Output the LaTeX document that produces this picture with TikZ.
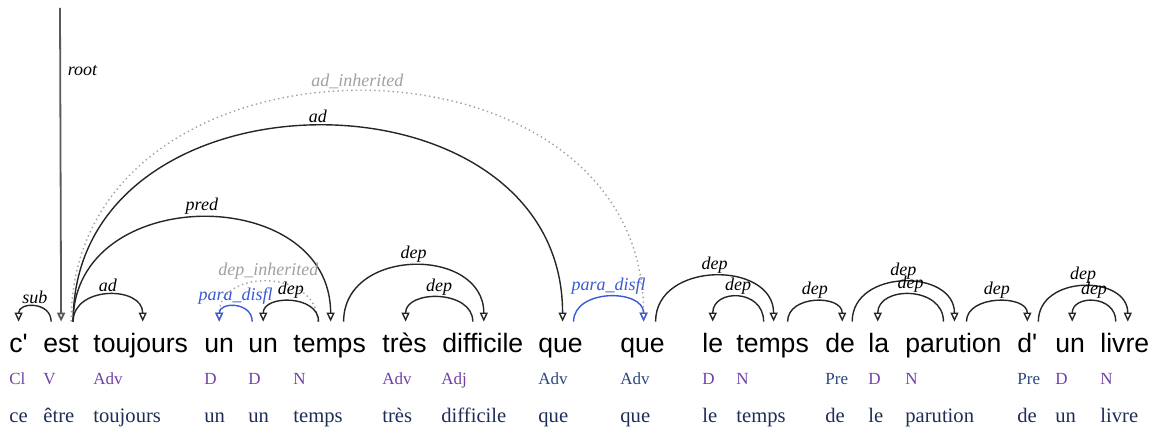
\documentclass[tikz,border=0pt]{standalone}
\usepackage{fontspec}
\setmainfont{Liberation Serif}
\newfontfamily\wordfont{Liberation Sans}
\usepackage{xcolor}
\usepackage{tikz}
\usetikzlibrary{arrows.meta, calc}

\definecolor{tagpurple}{RGB}{112,64,168}
\definecolor{tagnavy}{RGB}{43,70,122}
\definecolor{lemnavy}{RGB}{30,45,85}
\definecolor{disflblue}{RGB}{58,90,210}
\definecolor{inhgray}{RGB}{160,160,160}

\tikzset{
    word/.style={font=\wordfont\fontsize{13.3}{16}\selectfont, anchor=base west,
        inner xsep=0pt, inner ysep=0pt, text height=15.5pt},
    tag/.style={font=\fontsize{8.5}{10}\selectfont, anchor=base west, inner sep=0pt, text=tagpurple},
    lemma/.style={font=\fontsize{10.3}{12}\selectfont, anchor=base west, inner sep=0pt, text=lemnavy},
    lbl/.style={font=\itshape\fontsize{9}{11}\selectfont, anchor=south, inner sep=1pt, pos=0.5},
    arc/.style={draw=black!85, line width=0.7pt, -{Triangle[open, length=4.5pt, width=4pt]}},
    disfl/.style={arc, draw=disflblue},
    inherit/.style={arc, draw=inhgray, dash pattern=on 0.7pt off 1.6pt}
}

\begin{document}
\begin{tikzpicture}[x=0.5pt, y=-0.5pt]
        \useasboundingbox (0,0) rectangle (1157,432);

        % Words, tags and lemmas
        \node[word] (w1) at (9,353) {c'};
        \node[tag] (t1) at (9,385) {Cl};
        \node[lemma] (l1) at (9,423) {ce};
        \node[word] (w2) at (43,353) {est};
        \node[tag] (t2) at (43,385) {V};
        \node[lemma] (l2) at (43,423) {être};
        \node[word] (w3) at (93,353) {toujours};
        \node[tag] (t3) at (93,385) {Adv};
        \node[lemma] (l3) at (93,423) {toujours};
        \node[word] (w4) at (204,353) {un};
        \node[tag] (t4) at (204,385) {D};
        \node[lemma] (l4) at (204,423) {un};
        \node[word] (w5) at (248,353) {un};
        \node[tag] (t5) at (248,385) {D};
        \node[lemma] (l5) at (248,423) {un};
        \node[word] (w6) at (293,353) {temps};
        \node[tag] (t6) at (293,385) {N};
        \node[lemma] (l6) at (293,423) {temps};
        \node[word] (w7) at (382,353) {très};
        \node[tag] (t7) at (382,385) {Adv};
        \node[lemma] (l7) at (382,423) {très};
        \node[word] (w8) at (442,353) {difficile};
        \node[tag] (t8) at (441,385) {Adj};
        \node[lemma] (l8) at (441,423) {difficile};
        \node[word] (w9) at (538,353) {que};
        \node[tag, text=tagnavy] (t9) at (538,385) {Adv};
        \node[lemma] (l9) at (538,423) {que};
        \node[word] (w10) at (620,353) {que};
        \node[tag, text=tagnavy] (t10) at (620,385) {Adv};
        \node[lemma] (l10) at (620,423) {que};
        \node[word] (w11) at (702,353) {le};
        \node[tag] (t11) at (702,385) {D};
        \node[lemma] (l11) at (702,423) {le};
        \node[word] (w12) at (736,353) {temps};
        \node[tag] (t12) at (736,385) {N};
        \node[lemma] (l12) at (736,423) {temps};
        \node[word] (w13) at (825,353) {de};
        \node[tag, text=tagnavy] (t13) at (825,385) {Pre};
        \node[lemma] (l13) at (825,423) {de};
        \node[word] (w14) at (868,353) {la};
        \node[tag] (t14) at (868,385) {D};
        \node[lemma] (l14) at (868,423) {le};
        \node[word] (w15) at (905,353) {parution};
        \node[tag] (t15) at (905,385) {N};
        \node[lemma] (l15) at (905,423) {parution};
        \node[word] (w16) at (1017,353) {d'};
        \node[tag, text=tagnavy] (t16) at (1017,385) {Pre};
        \node[lemma] (l16) at (1017,423) {de};
        \node[word] (w17) at (1055,353) {un};
        \node[tag] (t17) at (1055,385) {D};
        \node[lemma] (l17) at (1055,423) {un};
        \node[word] (w18) at (1100,353) {livre};
        \node[tag] (t18) at (1100,385) {N};
        \node[lemma] (l18) at (1100,423) {livre};

        % Root
        \coordinate (rootTop) at (60,8);
        \draw[draw=black!65, line width=0.9pt, -{Triangle[open, length=4.5pt, width=4pt]}]
            (rootTop) -- node[pos=0.2, right=0pt, font=\itshape\fontsize{9}{11}\selectfont] {root} (w2.north);

        % Long arcs from est
        \draw[inherit] ($(w2.north)+(10,0)$) .. controls +(0,-307) and +(0,-307) .. node[lbl, text=inhgray] {ad\_inherited} ($(w10.north)+(1,0)$);
        \draw[arc] ($(w2.north)+(12,0)$) .. controls +(0,-261) and +(0,-261) .. node[lbl] {ad} ($(w9.north)+(2,0)$);
        \draw[arc] ($(w2.north)+(12,0)$) .. controls +(0,-139) and +(0,-139) .. node[lbl] {pred} ($(w6.north)+(1,0)$);

        % Short arcs
        \draw[arc] ($(w2.north)+(-10,0)$) .. controls +(0,-20) and +(0,-20) .. node[lbl] {sub} (w1.north);
        \draw[arc] ($(w2.north)+(12,0)$) .. controls +(0,-36) and +(0,-36) .. node[lbl] {ad} ($(w3.north)+(2,0)$);
        \draw[inherit] ($(w6.north)+(-12,0)$) .. controls +(0,-53) and +(0,-53) .. node[lbl, text=inhgray] {dep\_inherited} (w4.north);
        \draw[disfl] ($(w5.north)+(-11,0)$) .. controls +(0,-20) and +(0,-20) .. node[lbl, text=disflblue] {para\_disfl} (w4.north);
        \draw[arc] ($(w6.north)+(-11,0)$) .. controls +(0,-27) and +(0,-27) .. node[lbl] {dep} (w5.north);
        \draw[arc] ($(w6.north)+(14,0)$) .. controls +(0,-75) and +(0,-75) .. node[lbl] {dep} ($(w8.north)+(1,0)$);
        \draw[arc] ($(w8.north)+(-10,0)$) .. controls +(0,-32) and +(0,-32) .. node[lbl] {dep} ($(w7.north)+(1,0)$);
        \draw[disfl] ($(w9.north)+(13,0)$) .. controls +(0,-33) and +(0,-33) .. node[lbl, text=disflblue] {para\_disfl} ($(w10.north)+(1,0)$);
        \draw[arc] ($(w10.north)+(13,0)$) .. controls +(0,-61) and +(0,-61) .. node[lbl] {dep} ($(w12.north)+(1,0)$);
        \draw[arc] ($(w12.north)+(-9,0)$) .. controls +(0,-33) and +(0,-33) .. node[lbl] {dep} (w11.north);
        \draw[arc] ($(w12.north)+(15,0)$) .. controls +(0,-27) and +(0,-27) .. node[lbl] {dep} ($(w13.north)+(2,0)$);
        \draw[arc] ($(w13.north)+(12,0)$) .. controls +(0,-53) and +(0,-53) .. node[lbl] {dep} ($(w15.north)+(1,0)$);
        \draw[arc] ($(w15.north)+(-10,0)$) .. controls +(0,-36) and +(0,-36) .. node[lbl] {dep} ($(w14.north)+(-1,0)$);
        \draw[arc] ($(w15.north)+(13,0)$) .. controls +(0,-27) and +(0,-27) .. node[lbl] {dep} (w16.north);
        \draw[arc] ($(w16.north)+(11,0)$) .. controls +(0,-47) and +(0,-47) .. node[lbl] {dep} ($(w18.north)+(3,0)$);
        \draw[arc] ($(w18.north)+(-9,0)$) .. controls +(0,-27) and +(0,-27) .. node[lbl] {dep} ($(w17.north)+(2,0)$);
\end{tikzpicture}
\end{document}
